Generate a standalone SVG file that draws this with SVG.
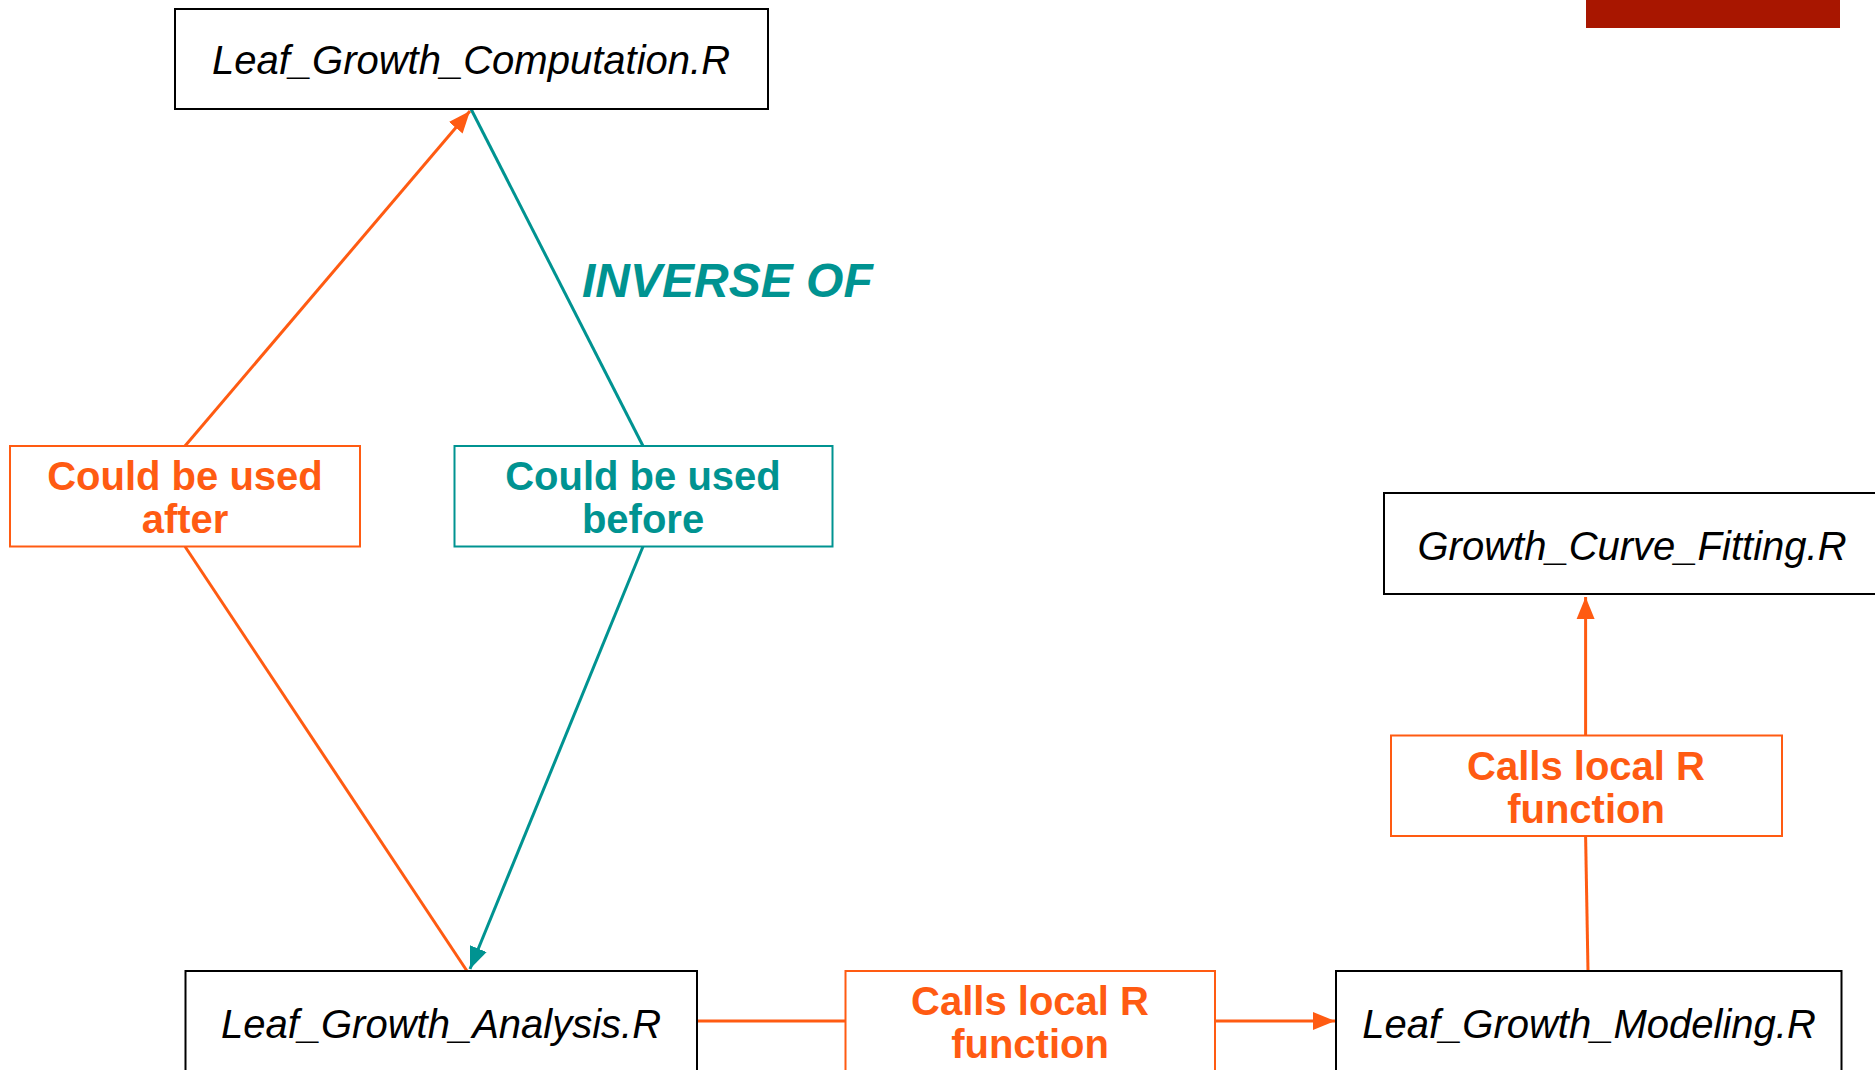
<svg xmlns="http://www.w3.org/2000/svg" width="1875" height="1070" viewBox="0 0 1875 1070">
  <style>
    .file rect { fill: #ffffff; stroke: #000000; stroke-width: 2; }
    .file text { font-family: "Liberation Sans", Arial, sans-serif; font-style: italic; font-size: 40px; fill: #000000; text-anchor: middle; }
    .lbl rect { fill: #ffffff; stroke-width: 2; }
    .lbl text { font-family: "Liberation Sans", Arial, sans-serif; font-weight: bold; font-size: 40px; text-anchor: middle; }
    .orange rect { stroke: #FF5B12; }
    .orange text { fill: #FF5B12; }
    .teal rect { stroke: #009391; }
    .teal text { fill: #009391; }
    .edge { fill: none; stroke-width: 3; }
    .edge.o { stroke: #FF5B12; }
    .edge.t { stroke: #009391; }
    .inv { font-family: "Liberation Sans", Arial, sans-serif; font-weight: bold; font-style: italic; font-size: 48px; fill: #009391; }
  </style>
  <defs>
    <marker id="arrO" markerUnits="userSpaceOnUse" markerWidth="24" markerHeight="20" refX="22" refY="10" orient="auto">
      <path d="M0,1 L22,10 L0,19 Z" fill="#FF5B12"/>
    </marker>
    <marker id="arrT" markerUnits="userSpaceOnUse" markerWidth="24" markerHeight="20" refX="22" refY="10" orient="auto">
      <path d="M0,1 L22,10 L0,19 Z" fill="#009391"/>
    </marker>
  </defs>

  <rect id="corner-bar" x="1586" y="0" width="254" height="28" fill="#A81600"/>

  <g id="connectors">
    <path class="edge o" d="M185,446 L470,111" marker-end="url(#arrO)"/>
    <path class="edge o" d="M185,546.5 L467,971"/>
    <path class="edge t" d="M471,109 L643,446"/>
    <path class="edge t" d="M643,546.5 L470,969" marker-end="url(#arrT)"/>
    <path class="edge o" d="M697,1021 L845,1021"/>
    <path class="edge o" d="M1215,1021 L1335,1021" marker-end="url(#arrO)"/>
    <path class="edge o" d="M1588,971 L1585.6,836"/>
    <path class="edge o" d="M1585.6,735 L1585.6,597" marker-end="url(#arrO)"/>
  </g>

  <text class="inv" x="582" y="297">INVERSE OF</text>

  <g id="leaf-growth-computation" class="file">
    <rect x="175" y="9" width="593" height="100"/>
    <text x="471" y="74">Leaf_Growth_Computation.R</text>
  </g>
  <g id="leaf-growth-analysis" class="file">
    <rect x="185.5" y="971" width="511.5" height="110"/>
    <text x="441" y="1038">Leaf_Growth_Analysis.R</text>
  </g>
  <g id="leaf-growth-modeling" class="file">
    <rect x="1336" y="971" width="505.5" height="110"/>
    <text x="1589" y="1038">Leaf_Growth_Modeling.R</text>
  </g>
  <g id="growth-curve-fitting" class="file">
    <rect x="1384" y="493" width="500" height="101"/>
    <text x="1632" y="560">Growth_Curve_Fitting.R</text>
  </g>

  <g id="used-after" class="lbl orange">
    <rect x="10" y="446" width="350" height="100.5"/>
    <text x="185" y="490">Could be used</text>
    <text x="185" y="533">after</text>
  </g>
  <g id="used-before" class="lbl teal">
    <rect x="454.5" y="446" width="378" height="100.5"/>
    <text x="643" y="490">Could be used</text>
    <text x="643" y="533">before</text>
  </g>
  <g id="calls-local-bottom" class="lbl orange">
    <rect x="845.5" y="971" width="369.5" height="110"/>
    <text x="1030" y="1015">Calls local R</text>
    <text x="1030" y="1058">function</text>
  </g>
  <g id="calls-local-right" class="lbl orange">
    <rect x="1391" y="735.5" width="391" height="100.5"/>
    <text x="1586" y="780">Calls local R</text>
    <text x="1586" y="823">function</text>
  </g>
</svg>
